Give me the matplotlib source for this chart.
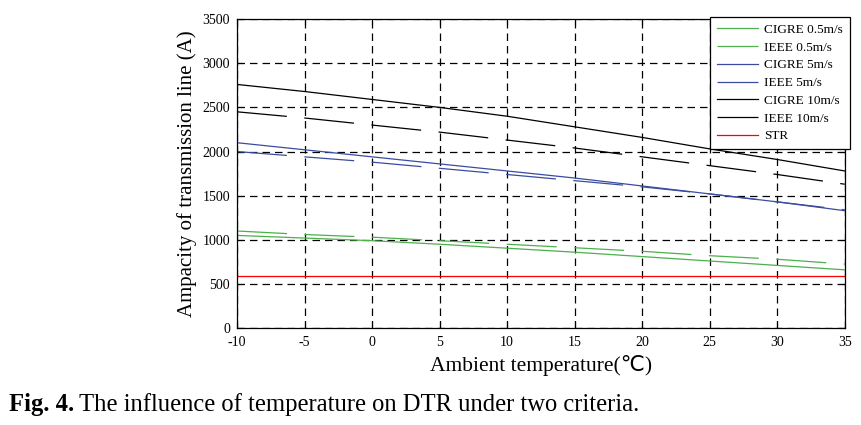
import matplotlib
matplotlib.use("Agg")
from matplotlib import pyplot as plt
import numpy as np

temps = [-10, -5, 0, 5, 10, 15, 20, 25, 30, 35]

cigre_05 = [1050, 1020, 990, 950, 905, 860, 810, 760, 710, 660]
ieee_05 = [1100, 1060, 1030, 990, 950, 910, 870, 820, 780, 725]
cigre_5 = [2100, 2020, 1940, 1860, 1780, 1700, 1610, 1520, 1430, 1330]
ieee_5 = [2000, 1940, 1880, 1810, 1740, 1670, 1600, 1520, 1430, 1340]
cigre_10 = [2760, 2680, 2590, 2500, 2400, 2280, 2160, 2030, 1910, 1780]
ieee_10 = [2450, 2380, 2300, 2220, 2130, 2040, 1940, 1840, 1740, 1630]
str_value = 585

plt.rcParams['font.family'] = ['Liberation Serif', 'DejaVu Sans']
plt.rcParams['axes.unicode_minus'] = False

fig = plt.figure(figsize=(8.62, 4.25), dpi=100)
ax = fig.add_axes([0.275, 0.228, 0.705, 0.727])

green = '#4cb04c'
blue = '#3a4ca0'
dash = (0, (40, 14))

ax.plot(temps, cigre_05, color=green, lw=0.9, label='CIGRE 0.5m/s')
ax.plot(temps, ieee_05, color=green, lw=0.9, ls=dash, label='IEEE 0.5m/s')
ax.plot(temps, cigre_5, color=blue, lw=0.9, label='CIGRE 5m/s')
ax.plot(temps, ieee_5, color=blue, lw=0.9, ls=dash, label='IEEE 5m/s')
ax.plot(temps, cigre_10, color='black', lw=0.9, label='CIGRE 10m/s')
ax.plot(temps, ieee_10, color='black', lw=0.9, ls=dash, label='IEEE 10m/s')
ax.plot([temps[0], temps[-1]], [str_value, str_value], color='red', lw=0.9, label='STR')

ax.set_xlim(-10, 35)
ax.set_ylim(0, 3500)
ax.set_xticks(np.arange(-10, 36, 5))
ax.set_yticks(np.arange(0, 3501, 500))
ax.grid(True, color='black', ls=(0, (6, 4)), lw=0.9)
ax.tick_params(direction='in', labelsize=10, length=4, top=True, right=True)
ax.tick_params(axis='x', pad=6)
ax.tick_params(axis='y', pad=5)
for s in ax.spines.values():
    s.set_linewidth(0.9)

ax.set_xlabel('Ambient temperature(\u2103)', fontsize=15.5, labelpad=4)
ax.set_ylabel('Ampacity of transmission line (A)', fontsize=15, labelpad=4)

leg = ax.legend(loc='upper right', fontsize=9.5, handlelength=3.1, labelspacing=0.42,
                handletextpad=0.5, frameon=True, fancybox=False, edgecolor='black',
                borderaxespad=0.0, borderpad=0.5, bbox_to_anchor=(1.008, 1.007))
leg.get_frame().set_linewidth(0.9)
leg.get_frame().set_alpha(1)

t1 = fig.text(0.01, 0.032, 'Fig. 4.', fontsize=17.7, fontweight='bold')
fig.canvas.draw()
bb = t1.get_window_extent()
x2 = (bb.x1 + 5) / fig.bbox.width
fig.text(x2, 0.032, 'The influence of temperature on DTR under two criteria.', fontsize=17.7)

fig.savefig('out.png', dpi=100)
